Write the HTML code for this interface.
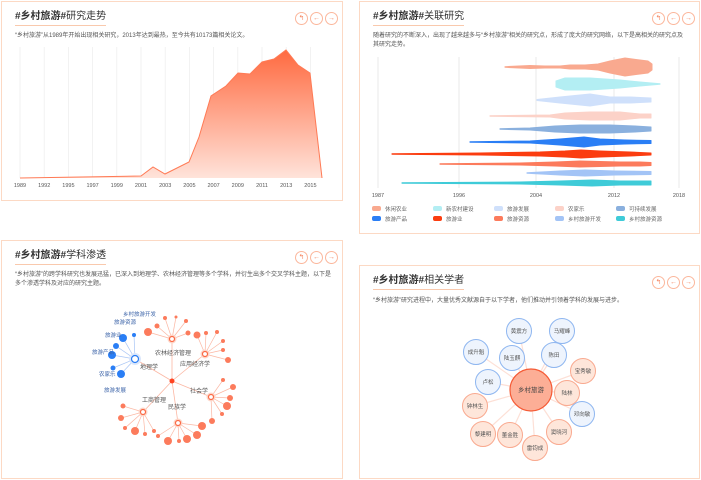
<!DOCTYPE html><html><head><meta charset="utf-8"><style>
body{margin:0;width:701px;height:480px;background:#fff;position:relative;overflow:hidden;font-family:"Liberation Sans","Noto Sans CJK SC",sans-serif;}
.p{position:absolute;border:1px solid #fcd9c4;box-sizing:border-box;background:#fff}
.t{position:absolute;left:13px;top:9px;font-size:10px;line-height:12px;color:#333;white-space:nowrap;padding-bottom:2px;border-bottom:1px solid #f9c9ad}
.t b{font-weight:bold}
.d{position:absolute;left:13px;font-size:6px;color:#555;line-height:9px}
.btn{position:absolute;top:10px;width:11px;height:11px;border:1px solid #fbb79c;border-radius:50%;color:#f58a66;font-size:7px;line-height:11px;text-align:center}
svg{position:absolute;left:0;top:0;z-index:5}
</style></head><body>
<div class="p" style="left:1px;top:1px;width:342px;height:200px">
<div class="t"><b>#乡村旅游#</b>研究走势</div>
<div class="d" style="top:30px">“乡村旅游”从1989年开始出现相关研究，2013年达到最热，至今共有10173篇相关论文。</div>
<div class="btn" style="left:293px">↰</div><div class="btn" style="left:308px">←</div><div class="btn" style="left:323px">→</div>
</div>
<div class="p" style="left:359px;top:1px;width:341px;height:233px">
<div class="t"><b>#乡村旅游#</b>关联研究</div>
<div class="d" style="top:30px;width:310px">随着研究的不断深入，出现了越来越多与“乡村旅游”相关的研究点，形成了庞大的研究网络，以下是高相关的研究点及其研究走势。</div>
<div class="btn" style="left:292px">↰</div><div class="btn" style="left:307px">←</div><div class="btn" style="left:322px">→</div>
</div>
<div class="p" style="left:1px;top:240px;width:342px;height:239px">
<div class="t"><b>#乡村旅游#</b>学科渗透</div>
<div class="d" style="top:30px;width:320px">“乡村旅游”的跨学科研究也发展迅猛，已深入到地理学、农林经济管理等多个学科，并衍生出多个交叉学科主题，以下是多个渗透学科及对应的研究主题。</div>
<div class="btn" style="left:293px">↰</div><div class="btn" style="left:308px">←</div><div class="btn" style="left:323px">→</div>
</div>
<div class="p" style="left:359px;top:265px;width:341px;height:214px">
<div class="t"><b>#乡村旅游#</b>相关学者</div>
<div class="d" style="top:31px">“乡村旅游”研究进程中，大量优秀文献源自于以下学者，他们推动并引领着学科的发展与进步。</div>
<div class="btn" style="left:292px">↰</div><div class="btn" style="left:307px">←</div><div class="btn" style="left:322px">→</div>
</div>
<svg width="701" height="480" id="s"></svg>
<script>
var s=document.getElementById('s'),h='';
h+='<defs><linearGradient id="g" x1="0" y1="0" x2="0" y2="1"><stop offset="0" stop-color="#ff6a40"/><stop offset="1" stop-color="#ffe3da"/></linearGradient></defs>';
var yrs=['1989','1992','1995','1997','1999','2001','2003','2005','2007','2009','2011','2013','2015'];
for(var i=0;i<13;i++){var x=20+i*24.2;h+='<line x1="'+x+'" y1="47" x2="'+x+'" y2="178" stroke="#eee" stroke-width="0.8"/><text x="'+x+'" y="187" font-size="5.5" fill="#555" text-anchor="middle">'+yrs[i]+'</text>';}
var pts=[[20,178],[141,176],[153,167],[165,174],[189,162],[199,137],[211,96],[226,86],[238,73],[250,74],[262,62],[274,59],[286,50],[298,65],[310,73],[322,178]];
var pp=pts.map(function(p){return p.join(',')}).join(' ');
h+='<polygon points="'+pp+' 20,178" fill="url(#g)"/><polyline points="'+pp+'" fill="none" stroke="#ff7a55" stroke-width="1"/>';
[[378,'1987'],[459,'1996'],[536,'2004'],[614,'2012'],[679,'2018']].forEach(function(a){h+='<line x1="'+a[0]+'" y1="57" x2="'+a[0]+'" y2="188" stroke="#e8e8e8"/><text x="'+a[0]+'" y="197" font-size="5.5" fill="#555" text-anchor="middle">'+a[1]+'</text>';});
function stream(y,prof,c){var top='',bot='';prof.forEach(function(p,i){top+=(i?' L':'M')+p[0]+','+(y-p[1]);});for(var i=prof.length-1;i>=0;i--)bot+=' L'+prof[i][0]+','+(y+prof[i][1]);h+='<path d="'+top+bot+'Z" fill="'+c+'" stroke="'+c+'" stroke-width="1" stroke-linejoin="round"/>';}
stream(67,[[505,0.3],[530,1.5],[545,1],[560,1],[570,2],[585,2],[598,3],[610,6],[625,9],[640,7],[648,6],[652,3]],'#f9a98f');
stream(84,[[556,3],[565,6],[590,6],[620,4],[640,2],[660,0.3]],'#b3eef3');
stream(100,[[537,0.5],[560,3],[590,6],[610,3],[630,3],[651,2]],'#cfe0fb');
stream(116,[[490,0.3],[550,1],[565,3],[590,4],[620,4],[640,2],[651,2]],'#fcd2c8');
stream(129,[[500,0.3],[530,1],[555,3],[580,4],[610,4],[635,3],[651,2]],'#8ab0de');
stream(142,[[470,0.3],[530,1],[560,3],[584,5],[600,3],[625,2],[651,1.5]],'#2a7ef5');
stream(154,[[392,0.3],[480,1],[540,2],[565,3],[581,4],[600,3],[630,2],[651,1]],'#fb3d10');
stream(164,[[440,0.3],[520,1],[555,2],[580,3],[620,2],[640,2],[651,1.5]],'#fc7b5c');
stream(173,[[527,0.3],[560,2],[585,3],[615,2],[651,1.5]],'#a3c4f6');
stream(183,[[402,0.3],[520,1],[560,2],[592,3],[620,2],[651,2]],'#3fcbd8');
var lg=[['休闲农业','#f9a98f'],['新农村建设','#b3eef3'],['旅游发展','#cfe0fb'],['农家乐','#fcd2c8'],['可持续发展','#8ab0de'],['旅游产品','#2a7ef5'],['旅游业','#fb3d10'],['旅游资源','#fc7b5c'],['乡村旅游开发','#a3c4f6'],['乡村旅游资源','#3fcbd8']];
lg.forEach(function(l,i){var x=372+(i%5)*61,y=206+Math.floor(i/5)*10;h+='<rect x="'+x+'" y="'+y+'" width="9" height="5" rx="2" fill="'+l[1]+'"/><text x="'+(x+13)+'" y="'+(y+5)+'" font-size="5.5" fill="#666">'+l[0]+'</text>';});
var C=[172,381],hubs=[[135,359],[172,339],[205,354],[211,397],[178,423],[143,412]];
var leaves=[[],[[148,332,4],[157,326,2.5],[165,318,2],[176,317,1.5],[186,321,2],[188,333,2.5]],[[197,335,3.5],[206,333,2],[217,332,2],[223,341,2],[223,350,2],[228,360,3]],[[223,380,2],[233,387,3],[230,398,3],[227,406,4],[222,414,2],[212,421,3]],[[158,436,2],[168,441,4],[179,441,2],[187,439,4],[197,435,4],[202,426,4]],[[123,406,2.5],[121,418,3],[125,428,2],[135,431,4],[145,434,2],[154,431,2]]];
var blue=[[123,338,4],[134,335,2],[116,346,3],[112,355,4],[113,368,2.5],[121,374,4]];
hubs.forEach(function(hb,i){h+='<line x1="'+C[0]+'" y1="'+C[1]+'" x2="'+hb[0]+'" y2="'+hb[1]+'" stroke="#fbb7a3" stroke-width="0.8"/>';var L=i==0?blue:leaves[i],col=i==0?'#2a7ef5':'#fc7b5c';L.forEach(function(l){h+='<line x1="'+hb[0]+'" y1="'+hb[1]+'" x2="'+l[0]+'" y2="'+l[1]+'" stroke="'+(i==0?'#a9c6f5':'#fbb7a3')+'" stroke-width="0.7"/><circle cx="'+l[0]+'" cy="'+l[1]+'" r="'+l[2]+'" fill="'+col+'"/>';});});
hubs.forEach(function(hb,i){var col=i==0?'#2a7ef5':'#fc6a45';h+='<circle cx="'+hb[0]+'" cy="'+hb[1]+'" r="'+(i==0?6:4.5)+'" fill="'+(i==0?'#dbe7fb':'#fdd6c9')+'"/><circle cx="'+hb[0]+'" cy="'+hb[1]+'" r="'+(i==0?3.5:2.5)+'" fill="#fff" stroke="'+col+'" stroke-width="1.2"/>';});
h+='<circle cx="172" cy="381" r="2.5" fill="#f42"/>';
[['农林经济管理',155,355],['应用经济学',180,366],['地理学',140,369],['社会学',190,393],['工商管理',142,402],['民族学',168,409]].forEach(function(t){h+='<text x="'+t[1]+'" y="'+t[2]+'" font-size="6" fill="#555">'+t[0]+'</text>';});
[['乡村旅游开发',123,316],['旅游资源',114,324],['旅游业',105,337],['旅游产品',92,354],['农家乐',99,376],['旅游发展',104,392]].forEach(function(t){h+='<text x="'+t[1]+'" y="'+t[2]+'" font-size="5.5" fill="#3b63a8">'+t[0]+'</text>';});
var sc=[['黄震方',519,331,1],['马耀峰',562,331,1],['成升魁',476,352,1],['陆玉麒',512,358,1],['陈田',554,355,1],['宝秀敏',583,371,0],['卢松',488,382,1],['陆林',567,393,0],['钟林生',475,406,0],['邓向敏',582,414,1],['黎建明',483,434,0],['董金胜',510,435,0],['窦晓河',559,432,0],['雷钧成',535,448,0]];
sc.forEach(function(a){h+='<line x1="531" y1="390" x2="'+a[1]+'" y2="'+a[2]+'" stroke="#fde0d6" stroke-width="1.2"/>';});
sc.forEach(function(a){h+='<circle cx="'+a[1]+'" cy="'+a[2]+'" r="12.5" fill="'+(a[3]?'#eef4fd':'#fee6da')+'" stroke="'+(a[3]?'#8eb6f0':'#f9a98f')+'" stroke-width="1"/><text x="'+a[1]+'" y="'+(a[2]+2)+'" font-size="5.5" fill="#555" text-anchor="middle">'+a[0]+'</text>';});
h+='<circle cx="531" cy="390" r="21" fill="#fcae96" stroke="#f55a35" stroke-width="1.2"/><text x="531" y="392" font-size="6.5" fill="#444" text-anchor="middle">乡村旅游</text>';
s.innerHTML=h;
</script>
</body></html>
